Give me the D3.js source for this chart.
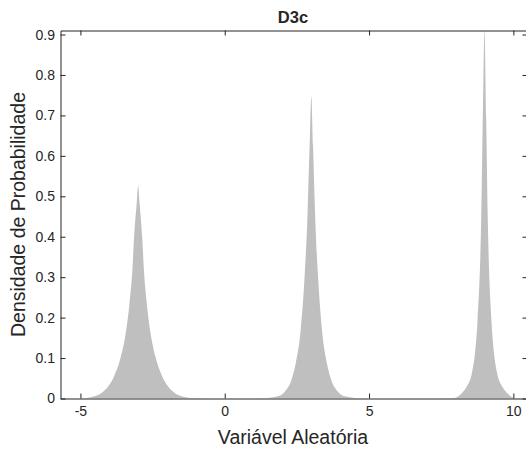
<!DOCTYPE html>
<html>
<head>
<meta charset="utf-8">
<script src="https://cdn.jsdelivr.net/npm/d3@7"></script>
<style>
  body { margin: 0; background: #fff; overflow: hidden; }
  text { font-family: "Liberation Sans", Arial, sans-serif; fill: #262626; }
</style>
</head>
<body>
<svg id="chart"></svg>
<script>
// values
var xValues = [
  -5.7, -5.0, -4.6, -4.15, -3.84, -3.6, -3.45, -3.3, -3.2, -3.14, -3.05, -3.0,
  -2.95, -2.86, -2.8, -2.7, -2.55, -2.4, -2.16, -1.85, -1.4, -1.0, 0.0,
  0.5, 1.3, 1.8, 2.08, 2.31, 2.46, 2.63, 2.76, 2.87, 2.94, 3.0,
  3.06, 3.13, 3.24, 3.37, 3.54, 3.69, 3.92, 4.2, 4.7, 5.5,
  6.5, 7.5, 7.93, 8.21, 8.38, 8.56, 8.67, 8.76, 8.885, 8.94, 9.0,
  9.06, 9.115, 9.24, 9.33, 9.44, 9.62, 9.79, 10.07, 10.5
];
var densityValues = [
  0, 0.0005, 0.004, 0.021, 0.054, 0.103, 0.153, 0.235, 0.318, 0.40, 0.483, 0.526,
  0.483, 0.40, 0.318, 0.235, 0.153, 0.103, 0.054, 0.021, 0.004, 0.0005, 0,
  0, 0.0005, 0.005, 0.017, 0.046, 0.087, 0.169, 0.293, 0.458, 0.623, 0.747,
  0.623, 0.458, 0.293, 0.169, 0.087, 0.046, 0.017, 0.005, 0.0005, 0,
  0, 0.0003, 0.001, 0.013, 0.029, 0.062, 0.112, 0.194, 0.442, 0.689, 0.91,
  0.689, 0.442, 0.194, 0.112, 0.062, 0.029, 0.013, 0.001, 0.0001
];
var xTicks = [-5, 0, 5, 10];
var yTicks = [0, 0.1, 0.2, 0.3, 0.4, 0.5, 0.6, 0.7, 0.8, 0.9];

var data = xValues.map(function (x, i) { return { x: x, y: densityValues[i] }; });

var W = 526, H = 450;
// the box runs slightly past the right edge of the picture, as in the original
var margin = { top: 30.5, right: -1.5, bottom: 51.5, left: 60.5 },
  width = W - margin.left - margin.right,
  height = H - margin.top - margin.bottom;

var svg = d3.select("#chart").attr("width", W).attr("height", H);
var g = svg.append("g")
  .attr("transform", "translate(" + margin.left + "," + margin.top + ")");

var x = d3.scaleLinear().domain([-5.69, 10.49]).range([0, width]);
var y = d3.scaleLinear().domain([0, 0.91]).range([height, 0]);

g.append("clipPath").attr("id", "clip")
  .append("rect").attr("width", width).attr("height", height);

var area = d3.area()
  .x(function (d) { return x(d.x); })
  .y0(y(0))
  .y1(function (d) { return y(d.y); })
  .curve(d3.curveMonotoneX);

g.append("path")
  .datum(data)
  .attr("clip-path", "url(#clip)")
  .attr("d", area)
  .attr("fill", "#bfbfbf");

// axes with inward ticks (box style)
var tl = 5;
function styleAxis(sel) {
  sel.select(".domain").attr("stroke", "#262626");
  sel.selectAll(".tick line").attr("stroke", "#262626");
  sel.selectAll("text").style("font-size", "14px").attr("fill", "#262626");
}
g.append("g").attr("transform", "translate(0," + height + ")")
  .call(d3.axisBottom(x).tickValues(xTicks).tickSizeInner(-tl).tickSizeOuter(0).tickPadding(8)
    .tickFormat(function (d) { return String(d); }))
  .call(styleAxis);
g.append("g")
  .call(d3.axisTop(x).tickValues(xTicks).tickSizeInner(-tl).tickSizeOuter(0).tickFormat(""))
  .call(styleAxis);
g.append("g")
  .call(d3.axisLeft(y).tickValues(yTicks).tickSizeInner(-tl).tickSizeOuter(0).tickPadding(5.5)
    .tickFormat(function (d) { return d === 0 ? "0" : d3.format(".1f")(d); }))
  .call(styleAxis);
g.append("g").attr("transform", "translate(" + width + ",0)")
  .call(d3.axisRight(y).tickValues(yTicks).tickSizeInner(-tl).tickSizeOuter(0).tickFormat(""))
  .call(styleAxis);

// title and axis labels
svg.append("text")
  .attr("x", 293).attr("y", 23)
  .attr("text-anchor", "middle")
  .style("font-size", "16.5px").style("font-weight", "bold")
  .attr("fill", "#000")
  .text("D3c");

svg.append("text")
  .attr("x", 293).attr("y", 444)
  .attr("text-anchor", "middle")
  .style("font-size", "19.5px")
  .text("Variável Aleatória");

svg.append("text")
  .attr("transform", "translate(25," + (margin.top + (398.5 - 30.5) / 2) + ") rotate(-90)")
  .attr("text-anchor", "middle")
  .style("font-size", "19.5px")
  .text("Densidade de Probabilidade");
</script>
</body>
</html>
